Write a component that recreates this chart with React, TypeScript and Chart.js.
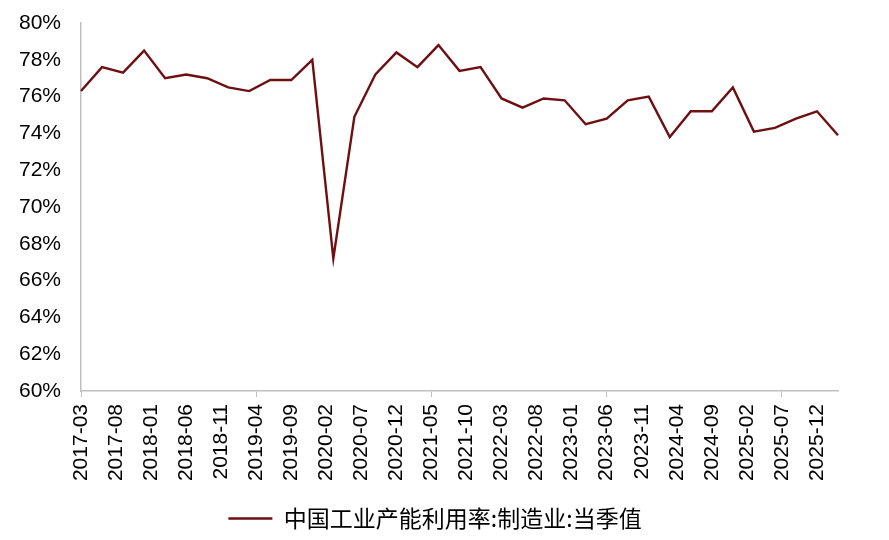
import { useEffect, useRef } from 'react';
import Chart from 'chart.js/auto';

// quarterly observations
const quarters = [
  '2017-03', '2017-06', '2017-09', '2017-12',
  '2018-03', '2018-06', '2018-09', '2018-12',
  '2019-03', '2019-06', '2019-09', '2019-12',
  '2020-03', '2020-06', '2020-09', '2020-12',
  '2021-03', '2021-06', '2021-09', '2021-12',
  '2022-03', '2022-06', '2022-09', '2022-12',
  '2023-03', '2023-06', '2023-09', '2023-12',
  '2024-03', '2024-06', '2024-09', '2024-12',
  '2025-03', '2025-06', '2025-09', '2025-12',
  '2026-03',
];

const utilization = [
  76.3, 77.6, 77.3, 78.5,
  77.0, 77.2, 77.0, 76.5,
  76.3, 76.9, 76.9, 78.0,
  67.2, 74.9, 77.2, 78.4,
  77.6, 78.8, 77.4, 77.6,
  75.9, 75.4, 75.9, 75.8,
  74.5, 74.8, 75.8, 76.0,
  73.8, 75.2, 75.2, 76.5,
  74.1, 74.3, 74.8, 75.2,
  73.9,
];

const seriesName = '中国工业产能利用率:制造业:当季值';
const lineColor = '#6E0F12';
const axisColor = '#BFBFBF';
const labelEvery = 5; // a tick label every 5 months

// the x axis is monthly, from the first to the last quarter
function monthRange(start: string, end: string) {
  const out: string[] = [];
  let [y, m] = start.split('-').map(Number);
  const [ey, em] = end.split('-').map(Number);
  while (y < ey || (y === ey && m <= em)) {
    out.push(`${y}-${String(m).padStart(2, '0')}`);
    m++;
    if (m > 12) { m = 1; y++; }
  }
  return out;
}

const months = monthRange(quarters[0], quarters[quarters.length - 1]);

// legend sits a little right of the canvas centre in the original
const legendShift = {
  id: 'legendShift',
  afterLayout(chart: Chart) {
    const lg: any = chart.legend;
    if (!lg) return;
    lg.left += 16;
    lg.right += 16;
  },
};

export default function App() {
  const canvasRef = useRef<HTMLCanvasElement>(null);
  const chartRef = useRef<Chart | null>(null);

  useEffect(() => {
    if (!canvasRef.current) return;
    if (chartRef.current) chartRef.current.destroy();

    chartRef.current = new Chart(canvasRef.current, {
      type: 'line',
      data: {
        labels: months,
        datasets: [{
          label: seriesName,
          data: quarters.map((q, i) => ({ x: q, y: utilization[i] })),
          borderColor: lineColor,
          backgroundColor: lineColor,
          borderWidth: 2.4,
          pointRadius: 0,
          tension: 0,
        }],
      },
      plugins: [legendShift],
      options: {
        animation: false,
        responsive: true,
        maintainAspectRatio: false,
        layout: { padding: { left: 0, right: 51, top: 23, bottom: 0 } },
        plugins: {
          tooltip: { enabled: false },
          legend: {
            position: 'bottom',
            labels: {
              usePointStyle: true,
              pointStyle: 'line',
              pointStyleWidth: 44,
              padding: 10,
              color: '#000',
              font: { family: "'Noto Sans CJK SC', sans-serif", size: 23 },
            },
          },
        },
        scales: {
          x: {
            type: 'category',
            afterFit: (scale) => { scale.height = 106; },
            grid: {
              drawOnChartArea: false,
              drawTicks: true,
              tickLength: 6,
              color: (ctx) => (ctx.index % labelEvery === 0 ? axisColor : 'rgba(0,0,0,0)'),
            },
            border: { color: axisColor, width: 1.5 },
            ticks: {
              autoSkip: false,
              minRotation: 90,
              maxRotation: 90,
              padding: 7,
              color: '#000',
              font: { family: "'Liberation Sans', Arial, sans-serif", size: 21 },
              callback: (_v, i) => (i % labelEvery === 0 ? months[i] : null),
            },
          },
          y: {
            min: 60,
            max: 80,
            afterFit: (scale) => { scale.width = 81; },
            // invisible tick marks keep the labels 20px off the axis
            grid: { drawOnChartArea: false, drawTicks: true, tickLength: 20, tickColor: 'rgba(0,0,0,0)' },
            border: { color: axisColor, width: 1.5 },
            ticks: {
              stepSize: 2,
              padding: 0,
              color: '#000',
              font: { family: "'Liberation Sans', Arial, sans-serif", size: 21 },
              callback: (v) => `${v}%`,
            },
          },
        },
      },
    });

    return () => chartRef.current?.destroy();
  }, []);

  return (
    <div style={{ position: 'absolute', left: 0, top: 0, width: 889, height: 540, background: '#fff' }}>
      <canvas ref={canvasRef} />
    </div>
  );
}
